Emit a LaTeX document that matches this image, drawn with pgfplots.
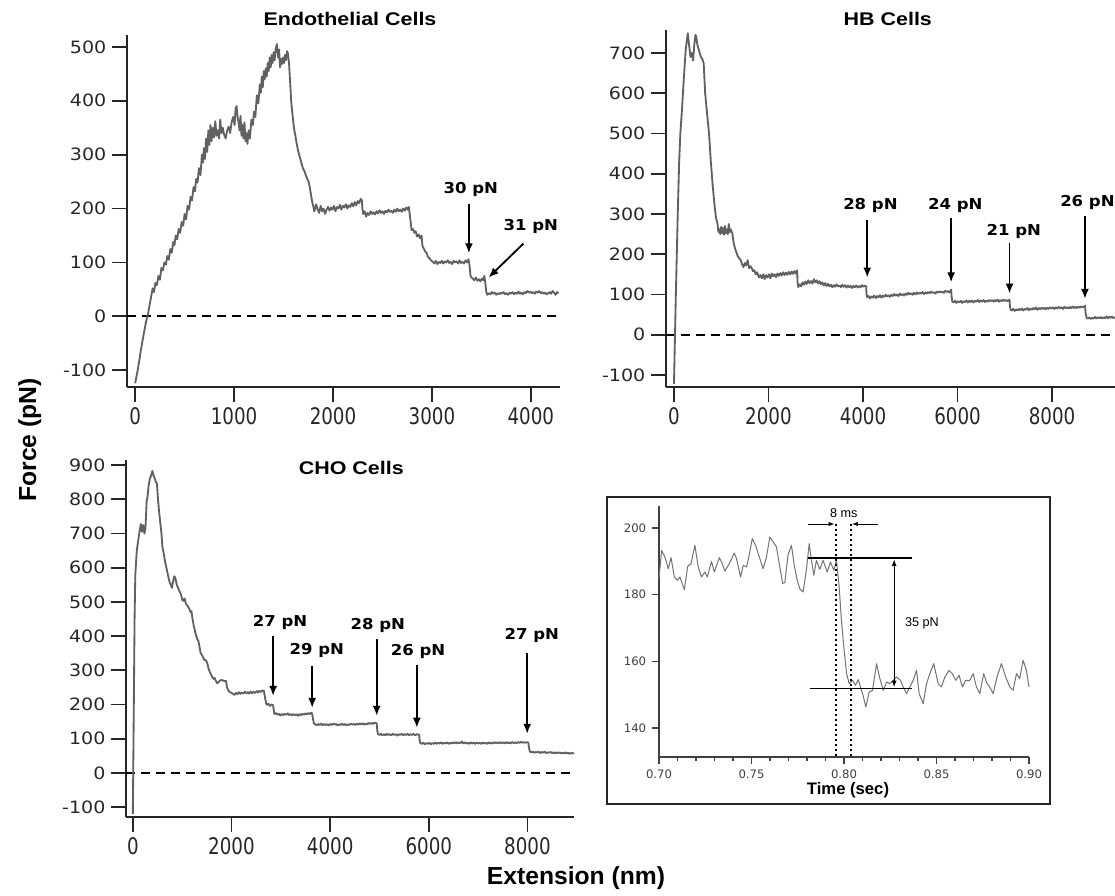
\documentclass[border=0pt]{standalone}
\usepackage{fontspec}
\setmainfont{DejaVu Sans}
\newfontfamily\arial{Liberation Sans}
\newfontfamily\titlefont{Liberation Sans}[FakeStretch=1.17]
\newfontfamily\ytickfont{DejaVu Sans}[FakeStretch=1.12]
\newfontfamily\xtickfont{DejaVu Sans}[FakeStretch=0.8]
\newfontfamily\lblfont{DejaVu Sans}[FakeStretch=1.1]
\usepackage{pgfplots}
\pgfplotsset{compat=1.18}
\usetikzlibrary{arrows.meta}

% common look of the three force curves
\pgfplotsset{
  afm/.style={
    scale only axis,
    anchor=south west,
    axis lines=left,
    axis line style={-, line width=1.1pt, black!85},
    tick style={line width=1.1pt, black!85},
    major tick length=9pt,
    tick align=outside,
    yticklabel style={font=\ytickfont\fontsize{10.2}{12}\selectfont, text=black!85},
    xticklabel style={font=\xtickfont\fontsize{13.7}{15}\selectfont, text=black!85},
    /pgf/number format/assume math mode=true,
    /pgf/number format/1000 sep={},
    scaled ticks=false,
    clip=false,
  },
  afmtrace/.style={line width=1.1pt, color=black!62, no markers, line join=round},
  afmzero/.style={line width=1.1pt, black, dash pattern=on 5pt off 4pt},
}
\tikzset{
  afmarrow/.style={-{Latex[length=6pt,width=4.8pt]}, line width=1.1pt, black},
  afmlbl/.style={font=\lblfont\bfseries\fontsize{9}{11}\selectfont, anchor=base, inner sep=0pt},
  ttl/.style={font=\titlefont\bfseries\fontsize{11}{13}\selectfont, anchor=base},
}

\begin{document}
\begin{tikzpicture}
\useasboundingbox (0,0) rectangle (669pt,537.6pt);

% ---------------- Endothelial ----------------
\begin{axis}[afm, at={(76.3pt,305.4pt)}, width=259.7pt, height=211.2pt,
  xmin=-81, xmax=4295, ymin=-131, ymax=522,
  xtick={0,1000,2000,3000,4000}, ytick={-100,0,100,200,300,400,500}]
\addplot[afmzero] coordinates {(-81,0) (4255,0)};
\addplot[afmtrace] table[row sep=\\] {
x y\\
0 -124\\ 30 -95\\ 60 -60\\ 88 -31\\ 110 -10\\ 130 5\\ 150 25\\ 165 40\\ 176 52\\ 190 45\\
205 62\\ 220 58\\ 235 75\\ 250 68\\ 265 90\\ 280 85\\ 295 100\\ 310 96\\ 325 112\\ 340 105\\
355 125\\ 370 118\\ 385 138\\ 397 132\\ 410 150\\ 425 143\\ 440 162\\ 455 155\\ 470 175\\ 485 168\\
500 190\\ 515 180\\ 530 205\\ 545 198\\ 560 222\\ 575 215\\ 590 240\\ 605 232\\ 617 255\\ 630 248\\
645 275\\ 660 262\\ 675 300\\ 685 285\\ 695 312\\ 705 292\\ 718 330\\ 728 305\\ 740 345\\ 750 318\\
761 355\\ 772 325\\ 785 350\\ 798 332\\ 810 362\\ 822 335\\ 835 345\\ 848 330\\ 860 365\\ 872 340\\
885 350\\ 898 338\\ 915 330\\ 930 345\\ 945 352\\ 960 340\\ 975 360\\ 990 370\\ 1005 355\\ 1015 385\\
1025 390\\ 1035 370\\ 1045 360\\ 1055 345\\ 1065 372\\ 1075 335\\ 1085 355\\ 1095 330\\ 1105 360\\ 1115 325\\
1125 340\\ 1135 320\\ 1147 345\\ 1160 330\\ 1175 365\\ 1190 355\\ 1202 380\\ 1215 370\\ 1230 410\\ 1245 395\\
1260 430\\ 1270 415\\ 1280 445\\ 1290 425\\ 1300 455\\ 1310 440\\ 1320 460\\ 1330 445\\ 1340 470\\ 1350 455\\
1360 480\\ 1370 462\\ 1380 485\\ 1390 470\\ 1400 490\\ 1410 475\\ 1420 495\\ 1433 505\\ 1445 480\\ 1455 495\\
1465 462\\ 1475 478\\ 1485 468\\ 1495 480\\ 1505 470\\ 1515 485\\ 1525 475\\ 1535 492\\ 1544 488\\ 1555 470\\
1565 440\\ 1577 400\\ 1590 375\\ 1605 350\\ 1620 335\\ 1635 318\\ 1650 305\\ 1665 295\\ 1680 285\\ 1695 275\\
1710 270\\ 1725 262\\ 1740 255\\ 1753 250\\ 1765 240\\ 1778 225\\ 1790 212\\ 1800 205\\ 1810 195\\ 1820 200\\
1830 208\\ 1845 198\\ 1860 192\\ 1875 205\\ 1890 195\\ 1905 200\\ 1920 190\\ 1935 198\\ 1950 203\\ 1965 196\\
1980 202\\ 1995 198\\ 2010 205\\ 2025 195\\ 2040 203\\ 2055 200\\ 2070 207\\ 2085 198\\ 2100 205\\ 2115 202\\
2130 208\\ 2145 200\\ 2160 206\\ 2175 203\\ 2190 210\\ 2205 204\\ 2220 212\\ 2235 206\\ 2250 214\\ 2265 210\\
2280 218\\ 2292 215\\ 2298 198\\ 2305 190\\ 2320 195\\ 2335 185\\ 2350 192\\ 2365 188\\ 2380 195\\ 2395 190\\
2410 193\\ 2425 189\\ 2440 195\\ 2455 191\\ 2470 197\\ 2485 192\\ 2500 195\\ 2515 190\\ 2530 196\\ 2545 193\\
2560 198\\ 2575 194\\ 2590 196\\ 2605 192\\ 2620 198\\ 2635 194\\ 2650 200\\ 2665 195\\ 2680 198\\ 2695 194\\
2710 200\\ 2725 196\\ 2740 202\\ 2755 198\\ 2767 203\\ 2775 190\\ 2785 175\\ 2795 160\\ 2810 162\\ 2822 155\\
2835 158\\ 2850 148\\ 2865 152\\ 2880 145\\ 2895 150\\ 2905 130\\ 2920 125\\ 2933 120\\ 2945 118\\ 2960 110\\
2975 108\\ 2990 104\\ 3005 102\\ 3024 98\\ 3040 103\\ 3055 97\\ 3070 101\\ 3085 99\\ 3100 103\\ 3115 98\\
3130 102\\ 3145 100\\ 3160 104\\ 3175 99\\ 3190 101\\ 3205 97\\ 3220 103\\ 3235 100\\ 3250 102\\ 3265 98\\
3280 104\\ 3295 99\\ 3310 101\\ 3325 98\\ 3340 104\\ 3355 100\\ 3370 106\\ 3380 95\\ 3390 75\\ 3400 72\\
3415 70\\ 3430 67\\ 3445 72\\ 3460 66\\ 3475 69\\ 3490 65\\ 3505 70\\ 3520 67\\ 3530 75\\ 3540 62\\
3550 45\\ 3560 40\\ 3575 43\\ 3590 41\\ 3605 45\\ 3620 42\\ 3635 44\\ 3650 40\\ 3665 43\\ 3680 41\\
3695 44\\ 3710 42\\ 3725 45\\ 3740 41\\ 3755 43\\ 3770 40\\ 3785 44\\ 3800 42\\ 3815 45\\ 3830 41\\
3845 44\\ 3860 42\\ 3875 46\\ 3890 42\\ 3905 44\\ 3920 41\\ 3935 45\\ 3950 43\\ 3965 47\\ 3980 44\\
3995 46\\ 4010 43\\ 4025 45\\ 4040 42\\ 4055 46\\ 4070 44\\ 4085 47\\ 4100 43\\ 4115 45\\ 4130 42\\
4145 44\\ 4160 41\\ 4175 43\\ 4190 45\\ 4205 42\\ 4220 47\\ 4235 44\\ 4250 40\\ 4265 45\\ 4280 43\\
};
\draw[afmarrow] (axis cs:3374,209) -- (axis cs:3374,117);
\draw[afmarrow] (axis cs:3925,135) -- (axis cs:3572,72);
\node[afmlbl] at (axis cs:3394,228) {30 pN};
\node[afmlbl] at (axis cs:4000,159) {31 pN};
\end{axis}

% ---------------- HB ----------------
\begin{axis}[afm, at={(399.7pt,305.4pt)}, width=269.3pt, height=214.2pt,
  xmin=-165, xmax=9333, ymin=-130, ymax=757,
  xtick={0,2000,4000,6000,8000}, ytick={-100,0,100,200,300,400,500,600,700}]
\addplot[afmzero] coordinates {(-165,0) (9333,0)};
\addplot[afmtrace] table[row sep=\\] {
x y\\
0 -122\\ 40 100\\ 80 300\\ 110 430\\ 135 500\\ 170 560\\ 210 640\\ 250 710\\ 292 749\\ 320 720\\
350 690\\ 380 700\\ 404 681\\ 430 720\\ 455 745\\ 472 740\\ 495 720\\ 520 710\\ 545 700\\ 570 690\\
600 685\\ 629 674\\ 660 600\\ 700 550\\ 742 500\\ 780 430\\ 820 370\\ 860 320\\ 890 290\\ 921 276\\
940 255\\ 960 262\\ 980 250\\ 1000 268\\ 1020 252\\ 1040 265\\ 1060 248\\ 1080 270\\ 1100 252\\ 1120 262\\
1140 250\\ 1160 275\\ 1180 255\\ 1200 262\\ 1236 251\\ 1260 230\\ 1290 215\\ 1320 205\\ 1350 195\\ 1380 190\\
1416 184\\ 1440 175\\ 1470 168\\ 1500 178\\ 1530 172\\ 1560 185\\ 1590 165\\ 1620 170\\ 1640 167\\ 1670 158\\
1700 160\\ 1730 150\\ 1760 155\\ 1798 142\\ 1830 148\\ 1860 140\\ 1890 150\\ 1920 138\\ 1950 148\\ 1980 142\\
2010 150\\ 2040 140\\ 2070 152\\ 2100 145\\ 2130 150\\ 2160 143\\ 2190 152\\ 2220 146\\ 2250 153\\ 2280 147\\
2310 155\\ 2340 148\\ 2370 154\\ 2400 149\\ 2430 156\\ 2460 150\\ 2490 157\\ 2520 151\\ 2550 158\\ 2580 152\\
2607 160\\ 2615 130\\ 2630 118\\ 2660 125\\ 2690 120\\ 2720 130\\ 2750 124\\ 2780 132\\ 2810 126\\ 2840 135\\
2870 128\\ 2900 133\\ 2930 127\\ 2960 138\\ 2990 130\\ 3020 135\\ 3050 127\\ 3080 133\\ 3110 125\\ 3140 130\\
3170 122\\ 3200 128\\ 3230 121\\ 3260 126\\ 3290 120\\ 3320 124\\ 3350 118\\ 3380 123\\ 3410 119\\ 3440 125\\
3470 120\\ 3500 122\\ 3530 118\\ 3560 124\\ 3590 119\\ 3620 123\\ 3650 117\\ 3680 122\\ 3710 118\\ 3740 121\\
3770 116\\ 3800 121\\ 3830 118\\ 3860 122\\ 3890 117\\ 3920 121\\ 3950 118\\ 3980 123\\ 4010 119\\ 4040 122\\
4067 120\\ 4075 100\\ 4090 93\\ 4120 96\\ 4150 90\\ 4180 95\\ 4210 92\\ 4240 97\\ 4270 91\\ 4300 96\\
4330 93\\ 4360 98\\ 4390 92\\ 4420 97\\ 4450 94\\ 4480 99\\ 4510 95\\ 4540 98\\ 4570 94\\ 4600 99\\
4630 96\\ 4660 101\\ 4690 97\\ 4720 100\\ 4750 96\\ 4780 102\\ 4810 98\\ 4840 101\\ 4870 97\\ 4900 102\\
4930 99\\ 4960 104\\ 4990 100\\ 5020 103\\ 5050 99\\ 5080 104\\ 5110 100\\ 5140 105\\ 5170 101\\ 5200 104\\
5230 102\\ 5260 106\\ 5290 101\\ 5320 105\\ 5350 102\\ 5380 106\\ 5410 103\\ 5440 107\\ 5470 104\\ 5500 105\\
5530 102\\ 5560 107\\ 5590 104\\ 5620 108\\ 5650 105\\ 5680 107\\ 5710 104\\ 5740 109\\ 5770 106\\ 5800 108\\
5830 105\\ 5865 112\\ 5875 95\\ 5890 82\\ 5920 80\\ 5950 84\\ 5980 79\\ 6010 83\\ 6040 80\\ 6070 84\\
6100 79\\ 6130 83\\ 6160 81\\ 6190 85\\ 6220 80\\ 6250 84\\ 6280 81\\ 6310 85\\ 6340 80\\ 6370 84\\
6400 82\\ 6430 86\\ 6460 81\\ 6490 85\\ 6520 82\\ 6550 86\\ 6580 81\\ 6610 85\\ 6640 82\\ 6670 86\\
6700 83\\ 6730 86\\ 6760 82\\ 6790 86\\ 6820 83\\ 6850 87\\ 6880 82\\ 6910 86\\ 6940 83\\ 6970 87\\
7000 84\\ 7030 86\\ 7060 83\\ 7101 87\\ 7110 70\\ 7125 62\\ 7150 60\\ 7180 64\\ 7210 59\\ 7240 63\\
7270 60\\ 7300 64\\ 7330 61\\ 7360 65\\ 7390 60\\ 7420 64\\ 7450 62\\ 7480 66\\ 7510 61\\ 7540 65\\
7570 62\\ 7600 66\\ 7630 63\\ 7660 67\\ 7690 62\\ 7720 66\\ 7750 63\\ 7780 67\\ 7810 64\\ 7840 67\\
7870 63\\ 7900 67\\ 7930 64\\ 7960 68\\ 7990 65\\ 8020 68\\ 8050 64\\ 8080 68\\ 8110 65\\ 8140 69\\
8170 66\\ 8200 68\\ 8230 64\\ 8260 69\\ 8290 66\\ 8320 68\\ 8350 65\\ 8380 69\\ 8410 66\\ 8440 70\\
8470 66\\ 8500 69\\ 8530 66\\ 8560 70\\ 8590 67\\ 8620 70\\ 8660 68\\ 8697 72\\ 8710 55\\ 8730 42\\
8760 40\\ 8790 43\\ 8820 39\\ 8850 42\\ 8880 40\\ 8910 44\\ 8940 40\\ 8970 43\\ 9000 41\\ 9030 44\\
9060 40\\ 9090 43\\ 9120 41\\ 9150 45\\ 9180 41\\ 9210 44\\ 9240 42\\ 9270 45\\ 9300 41\\ 9330 44\\
};
\draw[afmarrow] (axis cs:4090,284) -- (axis cs:4090,142);
\draw[afmarrow] (axis cs:5865,291) -- (axis cs:5865,130);
\draw[afmarrow] (axis cs:7101,229) -- (axis cs:7101,102);
\draw[afmarrow] (axis cs:8697,296) -- (axis cs:8697,89);
\node[afmlbl] at (axis cs:4157,311) {28 pN};
\node[afmlbl] at (axis cs:5955,311) {24 pN};
\node[afmlbl] at (axis cs:7191,246) {21 pN};
\node[afmlbl] at (axis cs:8749,318) {26 pN};
\end{axis}

% ---------------- CHO ----------------
\begin{axis}[afm, at={(75.8pt,47.4pt)}, width=268.6pt, height=214.2pt,
  xmin=-132, xmax=8944, ymin=-129, ymax=915,
  xtick={0,2000,4000,6000,8000}, ytick={-100,0,100,200,300,400,500,600,700,800,900}]
\addplot[afmzero] coordinates {(-132,0) (8880,0)};
\addplot[afmtrace] table[row sep=\\] {
x y\\
0 -120\\ 20 200\\ 35 450\\ 50 580\\ 80 650\\ 117 688\\ 140 710\\ 163 728\\ 185 705\\ 210 725\\
235 700\\ 256 716\\ 270 760\\ 280 795\\ 300 810\\ 320 840\\ 345 860\\ 370 870\\ 396 883\\ 420 870\\
445 860\\ 470 850\\ 489 845\\ 510 800\\ 535 760\\ 559 728\\ 580 700\\ 600 660\\ 629 640\\ 650 620\\
680 600\\ 710 580\\ 740 560\\ 770 550\\ 792 541\\ 815 560\\ 840 575\\ 862 570\\ 890 550\\ 920 540\\
950 530\\ 980 520\\ 1005 505\\ 1026 503\\ 1050 510\\ 1075 495\\ 1100 490\\ 1125 485\\ 1150 478\\ 1170 470\\
1189 473\\ 1210 450\\ 1235 430\\ 1260 415\\ 1285 400\\ 1310 390\\ 1329 386\\ 1350 370\\ 1375 350\\ 1400 345\\
1425 338\\ 1450 330\\ 1470 330\\ 1492 327\\ 1510 320\\ 1535 305\\ 1560 295\\ 1585 288\\ 1610 280\\ 1635 275\\
1655 278\\ 1680 270\\ 1710 262\\ 1740 266\\ 1770 270\\ 1800 272\\ 1830 270\\ 1860 268\\ 1888 269\\ 1910 250\\
1940 240\\ 1970 236\\ 2000 234\\ 2028 231\\ 2060 228\\ 2090 234\\ 2120 230\\ 2150 236\\ 2180 231\\ 2210 235\\
2240 232\\ 2270 237\\ 2300 233\\ 2330 236\\ 2360 232\\ 2390 238\\ 2420 233\\ 2450 237\\ 2480 234\\ 2510 239\\
2540 235\\ 2570 240\\ 2600 237\\ 2630 241\\ 2657 240\\ 2680 220\\ 2700 205\\ 2720 199\\ 2750 202\\ 2780 196\\
2810 200\\ 2844 198\\ 2855 185\\ 2870 172\\ 2900 175\\ 2930 170\\ 2960 173\\ 2990 168\\ 3020 172\\ 3050 169\\
3080 173\\ 3110 170\\ 3140 174\\ 3170 169\\ 3200 172\\ 3230 168\\ 3260 172\\ 3290 169\\ 3320 171\\ 3350 167\\
3380 172\\ 3410 169\\ 3440 173\\ 3470 170\\ 3500 174\\ 3530 171\\ 3560 175\\ 3590 172\\ 3620 176\\ 3636 173\\
3650 160\\ 3670 145\\ 3700 142\\ 3730 139\\ 3760 143\\ 3790 140\\ 3820 144\\ 3850 139\\ 3880 143\\ 3910 140\\
3940 142\\ 3970 139\\ 4000 143\\ 4030 140\\ 4060 144\\ 4090 141\\ 4120 143\\ 4150 139\\ 4180 142\\ 4210 140\\
4240 144\\ 4270 140\\ 4300 143\\ 4330 139\\ 4360 142\\ 4390 140\\ 4420 144\\ 4450 141\\ 4480 143\\ 4510 140\\
4540 144\\ 4570 141\\ 4600 145\\ 4630 142\\ 4660 145\\ 4690 141\\ 4720 144\\ 4750 142\\ 4780 146\\ 4810 143\\
4840 146\\ 4870 143\\ 4900 147\\ 4944 145\\ 4955 125\\ 4970 113\\ 5000 111\\ 5030 114\\ 5060 110\\ 5090 113\\
5120 110\\ 5150 114\\ 5180 111\\ 5210 113\\ 5240 110\\ 5270 114\\ 5300 111\\ 5330 113\\ 5360 109\\ 5390 113\\
5420 111\\ 5450 114\\ 5480 110\\ 5510 113\\ 5540 111\\ 5570 114\\ 5600 110\\ 5630 113\\ 5660 111\\ 5690 114\\
5720 110\\ 5760 113\\ 5804 112\\ 5815 95\\ 5830 87\\ 5860 85\\ 5890 88\\ 5920 84\\ 5950 87\\ 5980 85\\
6010 88\\ 6040 84\\ 6070 87\\ 6100 85\\ 6130 89\\ 6160 85\\ 6190 88\\ 6220 86\\ 6250 89\\ 6280 85\\
6310 88\\ 6340 86\\ 6370 89\\ 6400 85\\ 6430 88\\ 6460 86\\ 6490 89\\ 6520 86\\ 6550 90\\ 6580 86\\
6610 89\\ 6640 87\\ 6670 92\\ 6700 86\\ 6730 89\\ 6760 86\\ 6790 88\\ 6820 85\\ 6850 89\\ 6880 86\\
6910 88\\ 6940 85\\ 6970 89\\ 7000 86\\ 7030 88\\ 7060 85\\ 7090 89\\ 7120 86\\ 7150 88\\ 7180 85\\
7210 89\\ 7240 86\\ 7270 88\\ 7300 86\\ 7330 90\\ 7360 87\\ 7390 89\\ 7420 86\\ 7450 90\\ 7480 87\\
7510 89\\ 7540 86\\ 7570 90\\ 7600 87\\ 7630 89\\ 7660 86\\ 7690 90\\ 7720 87\\ 7750 89\\ 7780 87\\
7810 90\\ 7840 88\\ 7870 91\\ 7900 88\\ 7930 90\\ 7960 88\\ 8000 90\\ 8019 88\\ 8030 75\\ 8050 62\\
8080 60\\ 8110 62\\ 8140 59\\ 8170 61\\ 8200 60\\ 8230 62\\ 8260 58\\ 8290 61\\ 8320 59\\ 8350 62\\
8380 58\\ 8410 60\\ 8440 59\\ 8470 61\\ 8500 58\\ 8530 60\\ 8560 57\\ 8590 60\\ 8620 58\\ 8650 60\\
8680 57\\ 8710 59\\ 8740 57\\ 8770 60\\ 8800 57\\ 8830 59\\ 8860 56\\ 8890 58\\ 8920 57\\ 8940 59\\
};
\draw[afmarrow] (axis cs:2844,401) -- (axis cs:2844,225);
\draw[afmarrow] (axis cs:3636,313) -- (axis cs:3636,190);
\draw[afmarrow] (axis cs:4944,392) -- (axis cs:4944,167);
\draw[afmarrow] (axis cs:5758,316) -- (axis cs:5758,132);
\draw[afmarrow] (axis cs:7995,351) -- (axis cs:7995,114);
\node[afmlbl] at (axis cs:2984,427) {27 pN};
\node[afmlbl] at (axis cs:3730,345) {29 pN};
\node[afmlbl] at (axis cs:4965,418) {28 pN};
\node[afmlbl] at (axis cs:5781,342) {26 pN};
\node[afmlbl] at (axis cs:8089,389) {27 pN};
\end{axis}

% ---------------- inset: one rupture event ----------------
\draw[line width=1.6pt, black!85] (364.2pt,55.2pt) rectangle (630pt,239.4pt);
\begin{axis}[scale only axis, anchor=south west, at={(395.4pt,83.4pt)},
  width=222pt, height=150.6pt,
  xmin=0.70, xmax=0.90, ymin=131.3, ymax=206.6,
  axis lines=left,
  axis line style={-, line width=0.8pt, black!75},
  tick style={line width=0.8pt, black!75},
  tick align=outside, major tick length=4.2pt, minor tick length=2.4pt,
  xtick={0.70,0.75,0.80,0.85,0.90}, ytick={140,160,180,200},
  minor x tick num=4,
  xticklabel style={/pgf/number format/.cd, fixed, fixed zerofill, precision=2},
  ticklabel style={font=\fontsize{7}{8}\selectfont, text=black!75},
  /pgf/number format/assume math mode=true,
  clip=false]
\addplot[line width=0.6pt, black!55, no markers, line join=round] table[row sep=\\] {
t f\\
0.7000 184.8\\ 0.7014 193.3\\ 0.7032 191.3\\ 0.7050 187.8\\ 0.7065 191.1\\ 0.7083 185.3\\ 0.7099 184.3\\
0.7113 185.3\\ 0.7137 181.5\\ 0.7155 188.5\\ 0.7173 189.3\\ 0.7194 194.8\\ 0.7212 188.3\\ 0.7230 185.3\\
0.7248 186.8\\ 0.7261 185.3\\ 0.7284 190.0\\ 0.7299 186.8\\ 0.7326 191.1\\ 0.7338 189.8\\ 0.7356 187.1\\
0.7380 189.3\\ 0.7407 192.5\\ 0.7419 190.8\\ 0.7441 185.3\\ 0.7455 188.8\\ 0.7473 188.3\\ 0.7482 190.3\\
0.7504 196.8\\ 0.7522 194.8\\ 0.7545 190.8\\ 0.7563 187.8\\ 0.7581 191.3\\ 0.7599 197.3\\ 0.7617 195.8\\
0.7635 194.3\\ 0.7650 189.3\\ 0.7668 183.4\\ 0.7680 183.6\\ 0.7698 192.1\\ 0.7716 194.8\\ 0.7731 188.8\\
0.7747 184.3\\ 0.7761 181.8\\ 0.7779 180.8\\ 0.7797 187.6\\ 0.7812 195.3\\ 0.7824 190.3\\ 0.7837 185.8\\
0.7851 190.3\\ 0.7869 187.6\\ 0.7887 190.3\\ 0.7909 186.8\\ 0.7927 189.8\\ 0.7945 187.3\\ 0.7959 190.3\\
0.7974 182.3\\ 0.7986 172.3\\ 0.7999 164.3\\ 0.8014 156.3\\ 0.8028 153.3\\ 0.8046 154.3\\ 0.8062 152.8\\
0.8077 154.5\\ 0.8089 152.3\\ 0.8103 149.8\\ 0.8118 146.3\\ 0.8136 150.8\\ 0.8154 151.3\\ 0.8176 159.3\\
0.8194 154.8\\ 0.8212 151.3\\ 0.8230 153.8\\ 0.8248 153.3\\ 0.8266 154.3\\ 0.8284 155.3\\ 0.8305 154.3\\
0.8320 152.3\\ 0.8338 150.3\\ 0.8356 152.3\\ 0.8374 154.3\\ 0.8392 157.3\\ 0.8406 150.3\\ 0.8428 147.3\\
0.8446 153.3\\ 0.8464 156.3\\ 0.8485 159.3\\ 0.8509 153.3\\ 0.8527 152.3\\ 0.8545 155.3\\ 0.8568 157.3\\
0.8586 156.3\\ 0.8604 154.3\\ 0.8622 155.8\\ 0.8640 152.3\\ 0.8658 154.3\\ 0.8680 154.3\\ 0.8698 156.3\\
0.8716 152.3\\ 0.8734 150.3\\ 0.8755 156.3\\ 0.8773 153.3\\ 0.8788 152.3\\ 0.8806 150.3\\ 0.8827 155.3\\
0.8851 159.3\\ 0.8874 155.3\\ 0.8896 152.3\\ 0.8914 151.3\\ 0.8932 156.3\\ 0.8950 154.8\\ 0.8968 160.3\\
0.8986 157.3\\ 0.9000 152.3\\
};
\draw[line width=1.3pt, dash pattern=on 1.4pt off 1.6pt] (axis cs:0.7955,201.3) -- (axis cs:0.7955,131.3);
\draw[line width=1.3pt, dash pattern=on 1.4pt off 1.6pt] (axis cs:0.8037,201.3) -- (axis cs:0.8037,131.3);
\draw[line width=0.9pt] (axis cs:0.7806,191) -- (axis cs:0.8365,191);
\draw[line width=0.9pt] (axis cs:0.7815,151.8) -- (axis cs:0.8370,151.8);
\draw[{Latex[length=4pt,width=3pt]}-{Latex[length=4pt,width=3pt]}, line width=0.7pt]
  (axis cs:0.8271,190.6) -- (axis cs:0.8271,152.2);
\draw[-{Latex[length=3.5pt,width=2.5pt]}, line width=0.5pt] (axis cs:0.7806,201.2) -- (axis cs:0.7949,201.2);
\draw[-{Latex[length=3.5pt,width=2.5pt]}, line width=0.5pt] (axis cs:0.8185,201.2) -- (axis cs:0.8043,201.2);
\node[font=\arial\fontsize{7.6}{9}\selectfont, anchor=base, inner sep=0pt] at (axis cs:0.7999,203.1) {8 ms};
\node[font=\arial\fontsize{7.6}{9}\selectfont, anchor=base west, inner sep=0pt] at (axis cs:0.8328,170.5) {35 pN};
\end{axis}
\node[font=\arial\bfseries\fontsize{10}{12}\selectfont, anchor=base] at (508.8pt,60.6pt) {Time (sec)};

% ---------------- titles and shared labels ----------------
\node[ttl] at (210pt,522pt) {Endothelial Cells};
\node[ttl] at (532.7pt,522pt) {HB Cells};
\node[ttl] at (210.8pt,252.6pt) {CHO Cells};
\node[font=\arial\bfseries\fontsize{14.8}{17}\selectfont, anchor=base, rotate=90] at (21.6pt,273.6pt) {Force (pN)};
\node[font=\arial\bfseries\fontsize{14.8}{17}\selectfont, anchor=base] at (345.6pt,6.6pt) {Extension (nm)};
\end{tikzpicture}
\end{document}
